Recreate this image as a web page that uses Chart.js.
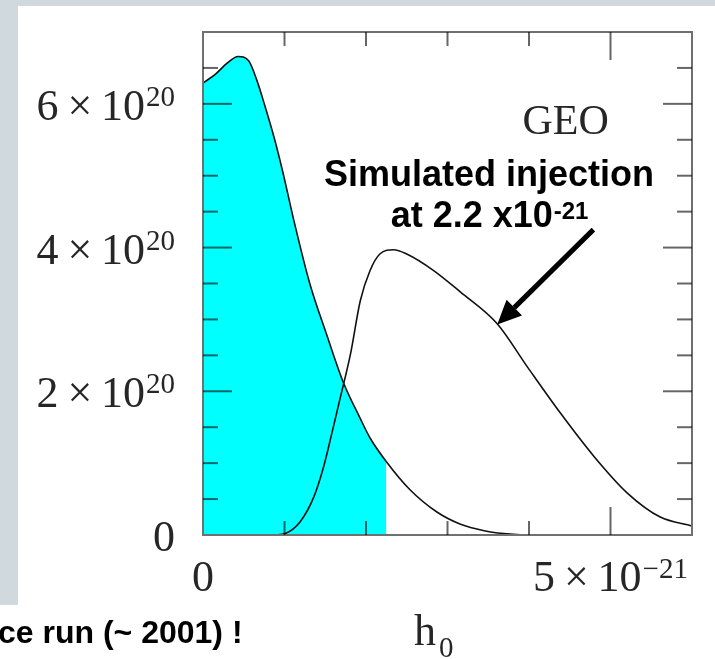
<!DOCTYPE html>
<html>
<head>
<meta charset="utf-8">
<script src="https://cdn.jsdelivr.net/npm/chart.js@4.4.1/dist/chart.umd.min.js"></script>
<style>
  html, body { margin: 0; padding: 0; background: #ffffff; }
  canvas { display: block; }
</style>
</head>
<body>
<canvas id="geoChart" width="715" height="659"></canvas>
<script>
// h0 in units of 1e-21, density in units of 1e20
const hMeasured = [0, 0.15, 0.3, 0.43, 0.56, 0.66, 0.76, 0.88, 0.99, 1.11, 1.31, 1.52, 1.72, 1.93, 2.05, 2.25, 2.54, 2.87, 3.16, 3.45, 3.69, 3.85, 4.0];
const pMeasured = [6.29, 6.41, 6.57, 6.66, 6.60, 6.33, 5.97, 5.50, 5.00, 4.40, 3.50, 2.78, 2.13, 1.62, 1.35, 1.02, 0.63, 0.32, 0.15, 0.06, 0.02, 0.005, 0];

const hInjected = [0.88, 1.01, 1.19, 1.36, 1.48, 1.58, 1.68, 1.81, 1.93, 2.05, 2.17, 2.34, 2.50, 2.83, 3.16, 3.61, 3.98, 4.39, 4.80, 5.21, 5.61, 6.0];
const pInjected = [0, 0.02, 0.18, 0.53, 0.95, 1.41, 1.89, 2.52, 3.26, 3.68, 3.91, 3.97, 3.91, 3.68, 3.38, 2.94, 2.34, 1.69, 1.09, 0.58, 0.25, 0.125];

// shaded part of the measured curve ends here (upper limit)
const fillLimit = 2.25;

const yTickValues = [0, 2, 4, 6];
const yTickText = ['0', '2\u2009×\u200910', '4\u2009×\u200910', '6\u2009×\u200910'];
const yTickSup = ['', '20', '20', '20'];

const xTickValues = [0, 5];
const xTickText = ['0', '5\u2009×\u200910'];
const xTickSup = ['', '\u221221'];

const xMinorTicks = [1, 2, 3, 4];
const xMajorTicks = [5];
const yMinorTicks = [0.5, 1, 1.5, 2.5, 3, 3.5, 4.5, 5, 5.5, 6.5];
const yMajorTicks = [2, 4, 6];

const toPoints = (xs, ys) => xs.map((x, i) => ({ x: x, y: ys[i] }));

const SERIF = '"Liberation Serif", "Times New Roman", serif';
const SANS = '"Liberation Sans", Arial, sans-serif';

const drawWithSup = (ctx, text, sup, x, y, align, size, supSize, rise) => {
    ctx.font = `${size}px ${SERIF}`;
    const w1 = ctx.measureText(text).width;
    ctx.font = `${supSize}px ${SERIF}`;
    const w2 = sup ? ctx.measureText(sup).width + 1 : 0;
    let x0 = x;
    if (align === 'right') x0 = x - w1 - w2;
    if (align === 'center') x0 = x - (w1 + w2) / 2;
    ctx.textAlign = 'left';
    ctx.textBaseline = 'alphabetic';
    ctx.font = `${size}px ${SERIF}`;
    ctx.fillText(text, x0, y);
    if (sup) {
        ctx.font = `${supSize}px ${SERIF}`;
        ctx.fillText(sup, x0 + w1 + 1, y - rise);
    }
};

const decorPlugin = {
    id: 'decor',
    beforeDraw(chart) {
        const ctx = chart.ctx;
        ctx.save();
        ctx.fillStyle = '#ffffff';
        ctx.fillRect(0, 0, chart.width, chart.height);
        ctx.fillStyle = '#cfd9de';
        ctx.fillRect(0, 0, chart.width, 6);
        ctx.fillRect(0, 0, 18, 605);
        ctx.restore();
    },
    afterDatasetsDraw(chart) {
        const ctx = chart.ctx;
        const a = chart.chartArea;
        const xs = chart.scales.x;
        const ys = chart.scales.y;
        ctx.save();

        // frame
        ctx.strokeStyle = '#707070';
        ctx.lineWidth = 2;
        ctx.strokeRect(a.left, a.top, a.right - a.left, a.bottom - a.top);

        // inward ticks on all four sides
        ctx.strokeStyle = 'rgba(0, 0, 0, 0.6)';
        ctx.lineWidth = 2;
        const tick = (x1, y1, x2, y2) => {
            ctx.beginPath();
            ctx.moveTo(x1, y1);
            ctx.lineTo(x2, y2);
            ctx.stroke();
        };
        xMinorTicks.forEach(v => {
            const px = xs.getPixelForValue(v);
            tick(px, a.top, px, a.top + 14);
            tick(px, a.bottom, px, a.bottom - 14);
        });
        xMajorTicks.forEach(v => {
            const px = xs.getPixelForValue(v);
            tick(px, a.top, px, a.top + 28);
            tick(px, a.bottom, px, a.bottom - 28);
        });
        yMinorTicks.forEach(v => {
            const py = ys.getPixelForValue(v);
            tick(a.left, py, a.left + 15, py);
            tick(a.right, py, a.right - 15, py);
        });
        yMajorTicks.forEach(v => {
            const py = ys.getPixelForValue(v);
            tick(a.left, py, a.left + 29, py);
            tick(a.right, py, a.right - 29, py);
        });

        // tick labels
        ctx.fillStyle = '#262626';
        yTickValues.forEach((v, i) => {
            const py = ys.getPixelForValue(v);
            drawWithSup(ctx, yTickText[i], yTickSup[i], a.left - 28, py + 16, 'right', 44, 29, 14);
        });
        xTickValues.forEach((v, i) => {
            const px = xs.getPixelForValue(v);
            drawWithSup(ctx, xTickText[i], xTickSup[i], px, a.bottom + 56, 'center', 44, 29, 13);
        });

        // axis title h0
        ctx.font = `44px ${SERIF}`;
        ctx.fillText('h', 414, 645);
        ctx.font = `29px ${SERIF}`;
        ctx.fillText('0', 439, 657);

        // GEO label
        ctx.font = `42px ${SERIF}`;
        ctx.fillText('GEO', xs.getPixelForValue(3.92), ys.getPixelForValue(5.58));

        // annotation text
        ctx.fillStyle = '#000000';
        ctx.textAlign = 'center';
        ctx.font = `bold 36px ${SANS}`;
        const cx = xs.getPixelForValue(3.51);
        ctx.fillText('Simulated injection', cx, ys.getPixelForValue(4.86));
        const line2 = 'at 2.2 x10';
        const sup2 = '-21';
        const w1 = ctx.measureText(line2).width;
        ctx.font = `bold 24px ${SANS}`;
        const w2 = ctx.measureText(sup2).width;
        ctx.textAlign = 'left';
        const lx = cx - (w1 + w2) / 2;
        const ly = ys.getPixelForValue(4.28);
        ctx.font = `bold 36px ${SANS}`;
        ctx.fillText(line2, lx, ly);
        ctx.font = `bold 24px ${SANS}`;
        ctx.fillText(sup2, lx + w1 + 1, ly - 8);

        // arrow pointing at the injection curve
        const x1 = xs.getPixelForValue(4.79), y1 = ys.getPixelForValue(4.25);
        const x2 = xs.getPixelForValue(3.61), y2 = ys.getPixelForValue(2.93);
        const ang = Math.atan2(y2 - y1, x2 - x1);
        const headLen = 24, headW = 11;
        const bx = x2 - headLen * Math.cos(ang), by = y2 - headLen * Math.sin(ang);
        ctx.strokeStyle = '#000000';
        ctx.lineWidth = 5;
        ctx.lineCap = 'butt';
        ctx.beginPath();
        ctx.moveTo(x1, y1);
        ctx.lineTo(bx, by);
        ctx.stroke();
        ctx.fillStyle = '#000000';
        ctx.beginPath();
        ctx.moveTo(x2, y2);
        ctx.lineTo(bx + headW * Math.sin(ang), by - headW * Math.cos(ang));
        ctx.lineTo(bx - headW * Math.sin(ang), by + headW * Math.cos(ang));
        ctx.closePath();
        ctx.fill();

        // caption fragment below the figure
        ctx.font = `bold 32px ${SANS}`;
        ctx.fillText('ce run (~ 2001) !', -2, 643);

        ctx.restore();
    }
};

new Chart(document.getElementById('geoChart').getContext('2d'), {
    type: 'line',
    data: {
        datasets: [
            {
                // shaded area under the measured curve, up to the limit
                data: toPoints(hMeasured, pMeasured),
                fill: 'origin',
                backgroundColor: '#00ffff',
                borderWidth: 0,
                cubicInterpolationMode: 'monotone',
                segment: {
                    backgroundColor: c => (c.p0.parsed.x >= fillLimit ? 'rgba(0,0,0,0)' : '#00ffff')
                },
                order: 10
            },
            {
                data: toPoints(hMeasured, pMeasured),
                fill: false,
                borderColor: '#111111',
                borderWidth: 1.6,
                cubicInterpolationMode: 'monotone',
                order: 1
            },
            {
                data: toPoints(hInjected, pInjected),
                fill: false,
                borderColor: '#111111',
                borderWidth: 1.6,
                cubicInterpolationMode: 'monotone',
                order: 2
            }
        ]
    },
    options: {
        responsive: false,
        animation: false,
        devicePixelRatio: 1,
        layout: { padding: { left: 203, right: 23, top: 32, bottom: 124 } },
        elements: { point: { radius: 0 } },
        scales: {
            x: { type: 'linear', min: 0, max: 6, display: false },
            y: { min: 0, max: 7, display: false }
        },
        plugins: {
            legend: { display: false },
            tooltip: { enabled: false }
        }
    },
    plugins: [decorPlugin]
});
</script>
</body>
</html>
